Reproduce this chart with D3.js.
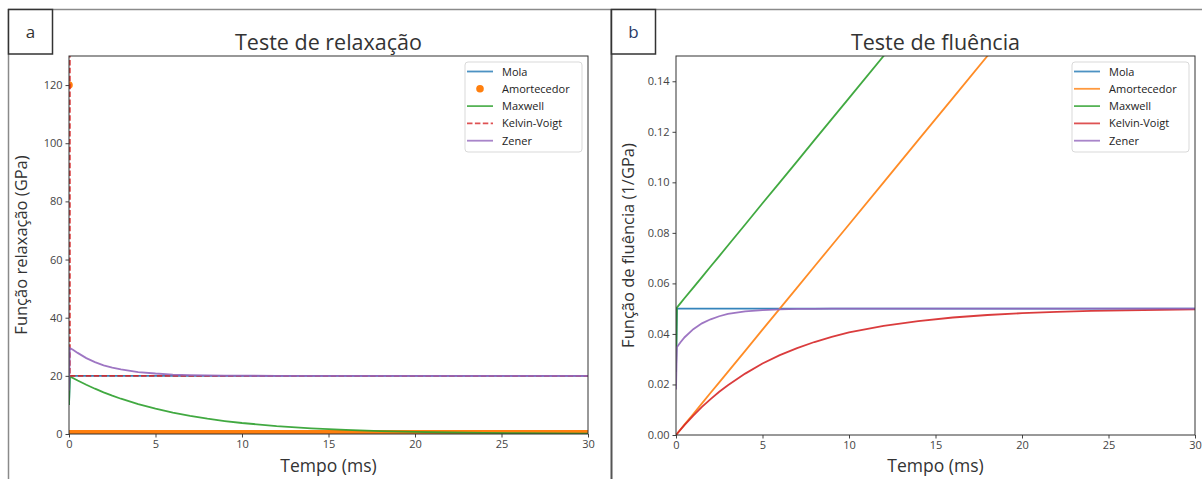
<!DOCTYPE html>
<html>
<head>
<meta charset="utf-8">
<script src="https://cdn.jsdelivr.net/npm/d3@7"></script>
<style>
  html, body { margin: 0; padding: 0; background: #fff; }
  svg { display: block; font-family: "Open Sans", "DejaVu Sans", sans-serif; }
</style>
</head>
<body>
<svg id="chart" width="1202" height="479"></svg>
<script>
// Time samples (ms)
const time = [0, 0.05, 0.25, 0.5, 1, 1.5, 2, 2.5, 3, 4, 5, 6, 7, 8, 9, 10, 12, 14, 16, 18, 20, 22, 24, 26, 28, 30];

// Relaxation function (GPa)
const relaxMola     = [10, 20, 20, 20, 20, 20, 20, 20, 20, 20, 20, 20, 20, 20, 20, 20, 20, 20, 20, 20, 20, 20, 20, 20, 20, 20];
const relaxDashpot  = [120, 0, 0, 0, 0, 0, 0, 0, 0, 0, 0, 0, 0, 0, 0, 0, 0, 0, 0, 0, 0, 0, 0, 0, 0, 0];
const relaxMaxwell  = [10, 19.83, 19.18, 18.40, 16.93, 15.58, 14.33, 13.18, 12.13, 10.27, 8.69, 7.36, 6.23, 5.27, 4.46, 3.78, 2.71, 1.94, 1.39, 1.00, 0.71, 0.51, 0.37, 0.26, 0.19, 0.13];
const relaxKelvin   = [2400, 20, 20, 20, 20, 20, 20, 20, 20, 20, 20, 20, 20, 20, 20, 20, 20, 20, 20, 20, 20, 20, 20, 20, 20, 20];
const relaxZener    = [15, 29.6, 28.9, 27.9, 26.1, 24.7, 23.6, 22.8, 22.2, 21.3, 20.8, 20.45, 20.25, 20.15, 20.08, 20.05, 20.01, 20, 20, 20, 20, 20, 20, 20, 20, 20];

// Creep function (1/GPa)
const creepMola     = [0.025, 0.05, 0.05, 0.05, 0.05, 0.05, 0.05, 0.05, 0.05, 0.05, 0.05, 0.05, 0.05, 0.05, 0.05, 0.05, 0.05, 0.05, 0.05, 0.05, 0.05, 0.05, 0.05, 0.05, 0.05, 0.05];
const creepDashpot  = [0, 0.0004, 0.0021, 0.0042, 0.0083, 0.0125, 0.0167, 0.0208, 0.025, 0.0333, 0.0417, 0.05, 0.0583, 0.0667, 0.075, 0.0833, 0.1, 0.1167, 0.1333, 0.15, 0.1667, 0.1833, 0.2, 0.2167, 0.2333, 0.25];
const creepMaxwell  = [0.025, 0.0504, 0.0521, 0.0542, 0.0583, 0.0625, 0.0667, 0.0708, 0.075, 0.0833, 0.0917, 0.1, 0.1083, 0.1167, 0.125, 0.1333, 0.15, 0.1667, 0.1833, 0.2, 0.2167, 0.2333, 0.25, 0.2667, 0.2833, 0.3];
const creepKelvin   = [0, 0.0004, 0.0020, 0.0040, 0.0077, 0.0111, 0.0142, 0.0171, 0.0197, 0.0243, 0.0283, 0.0316, 0.0344, 0.0368, 0.0388, 0.0406, 0.0432, 0.0451, 0.0465, 0.0475, 0.0482, 0.0487, 0.0491, 0.0493, 0.0495, 0.0497];
const creepZener    = [0.018, 0.0347, 0.0366, 0.0387, 0.0419, 0.0442, 0.0458, 0.0470, 0.0479, 0.0489, 0.0494, 0.0497, 0.0499, 0.0499, 0.05, 0.05, 0.05, 0.05, 0.05, 0.05, 0.05, 0.05, 0.05, 0.05, 0.05, 0.05];

const seriesNames = ["Mola", "Amortecedor", "Maxwell", "Kelvin-Voigt", "Zener"];
const xTicks = [0, 5, 10, 15, 20, 25, 30];
const relaxTicks = [0, 20, 40, 60, 80, 100, 120];
const creepTicks = [0, 0.02, 0.04, 0.06, 0.08, 0.10, 0.12, 0.14];

const colors = {
  "Mola": "#1f77b4", "Amortecedor": "#ff7f0e", "Maxwell": "#2ca02c",
  "Kelvin-Voigt": "#d62728", "Zener": "#9467bd"
};

const svg = d3.select("#chart");

// Outer panel frames
svg.append("line").attr("x1", 8).attr("x2", 1202).attr("y1", 9.5).attr("y2", 9.5)
  .attr("stroke", "#8a8a8a").attr("stroke-width", 1.5);
svg.append("line").attr("x1", 8.5).attr("x2", 8.5).attr("y1", 9).attr("y2", 479)
  .attr("stroke", "#8a8a8a").attr("stroke-width", 1.5);
svg.append("line").attr("x1", 611.5).attr("x2", 611.5).attr("y1", 9).attr("y2", 479)
  .attr("stroke", "#555").attr("stroke-width", 2);

function panelTag(x, label, color) {
  svg.append("rect").attr("x", x).attr("y", 9.5).attr("width", 44).attr("height", 44.5)
    .attr("fill", "#fff").attr("stroke", "#333").attr("stroke-width", 1.5);
  svg.append("text").attr("x", x + 22).attr("y", 38).attr("text-anchor", "middle")
    .attr("font-size", 17).attr("fill", color).text(label);
}
panelTag(8.5, "a", "#333");
panelTag(611.5, "b", "#2b3a66");

function drawPanel(cfg) {
  const { left, right, top, bottom, yDomain, yTicks, yFmt, title, yLabel, series, id } = cfg;
  const x = d3.scaleLinear().domain([0, 30]).range([left, right]);
  const y = d3.scaleLinear().domain(yDomain).range([bottom, top]);
  const g = svg.append("g");

  g.append("clipPath").attr("id", id).append("rect")
    .attr("x", left).attr("y", top).attr("width", right - left).attr("height", bottom - top);

  const plot = g.append("g").attr("clip-path", `url(#${id})`);
  const line = d3.line().x((d, i) => x(time[i])).y(d => y(d));

  series.forEach(s => {
    if (s.kind === "dots") {
      // dense markers along the zero line read as a thick band
      plot.append("line").attr("x1", x(0)).attr("x2", x(30))
        .attr("y1", y(0)).attr("y2", y(0))
        .attr("stroke", colors[s.name]).attr("stroke-width", 8);
      s.values.forEach((v, i) => {
        if (v !== 0) {
          plot.append("circle").attr("cx", x(time[i])).attr("cy", y(v)).attr("r", 3.8)
            .attr("fill", colors[s.name]);
        }
      });
    } else {
      plot.append("path").datum(s.values).attr("d", line)
        .attr("fill", "none").attr("stroke", colors[s.name]).attr("stroke-width", 1.8)
        .attr("stroke-opacity", 0.9)
        .attr("stroke-dasharray", s.dashed ? "5.5,2.4" : null);
    }
  });

  // Axes
  const xAxis = d3.axisBottom(x).tickValues(xTicks).tickSize(3.5).tickPadding(3).tickFormat(d3.format("d"));
  const yAxis = d3.axisLeft(y).tickValues(yTicks).tickSize(3.5).tickPadding(3).tickFormat(yFmt);
  const gx = g.append("g").attr("transform", `translate(0,${bottom})`).call(xAxis);
  const gy = g.append("g").attr("transform", `translate(${left},0)`).call(yAxis);
  [gx, gy].forEach(a => {
    a.select(".domain").remove();
    a.selectAll(".tick line").attr("stroke", "#444");
    a.selectAll(".tick text").attr("fill", "#444").attr("font-size", 11)
      .attr("font-family", "'Open Sans', sans-serif");
  });

  g.append("rect").attr("x", left).attr("y", top).attr("width", right - left).attr("height", bottom - top)
    .attr("fill", "none").attr("stroke", "#333").attr("stroke-width", 1);

  g.append("text").attr("x", (left + right) / 2).attr("y", top - 6).attr("text-anchor", "middle")
    .attr("font-size", 21.5).attr("fill", "#333").text(title);
  g.append("text").attr("x", (left + right) / 2).attr("y", 472).attr("text-anchor", "middle")
    .attr("font-size", 17.5).attr("fill", "#333").text("Tempo (ms)");
  g.append("text").attr("transform", `translate(${left - 42},${(top + bottom) / 2}) rotate(-90)`)
    .attr("text-anchor", "middle").attr("font-size", 16.5).attr("fill", "#333").text(yLabel);

  // Legend
  const lg = g.append("g").attr("transform", `translate(${right - 123},62)`);
  lg.append("rect").attr("x", 0).attr("y", 0).attr("width", 117).attr("height", 90).attr("rx", 3)
    .attr("fill", "#fff").attr("fill-opacity", 0.85).attr("stroke", "#d9d9d9");
  series.forEach((s, i) => {
    const yy = 9.5 + i * 17.3;
    if (s.kind === "dots") {
      lg.append("circle").attr("cx", 15).attr("cy", yy).attr("r", 3.8).attr("fill", colors[s.name]);
    } else {
      lg.append("line").attr("x1", 2).attr("x2", 28).attr("y1", yy).attr("y2", yy)
        .attr("stroke", colors[s.name]).attr("stroke-width", 1.8).attr("stroke-opacity", 0.8)
        .attr("stroke-dasharray", s.dashed ? "5.5,2.4" : null);
    }
    lg.append("text").attr("x", 37).attr("y", yy + 4).attr("font-size", 11).attr("fill", "#222")
      .text(s.name);
  });
}

drawPanel({
  id: "clipRelax", left: 69, right: 588, top: 56, bottom: 434,
  yDomain: [0, 130], yTicks: relaxTicks, yFmt: d3.format("d"),
  title: "Teste de relaxação", yLabel: "Função relaxação (GPa)",
  series: [
    { name: "Mola", values: relaxMola },
    { name: "Amortecedor", values: relaxDashpot, kind: "dots" },
    { name: "Maxwell", values: relaxMaxwell },
    { name: "Kelvin-Voigt", values: relaxKelvin, dashed: true },
    { name: "Zener", values: relaxZener }
  ]
});

drawPanel({
  id: "clipCreep", left: 676, right: 1195, top: 56, bottom: 435,
  yDomain: [0, 0.15], yTicks: creepTicks, yFmt: d3.format(".2f"),
  title: "Teste de fluência", yLabel: "Função de fluência (1/GPa)",
  series: [
    { name: "Mola", values: creepMola },
    { name: "Amortecedor", values: creepDashpot },
    { name: "Maxwell", values: creepMaxwell },
    { name: "Kelvin-Voigt", values: creepKelvin },
    { name: "Zener", values: creepZener }
  ]
});
</script>
</body>
</html>
